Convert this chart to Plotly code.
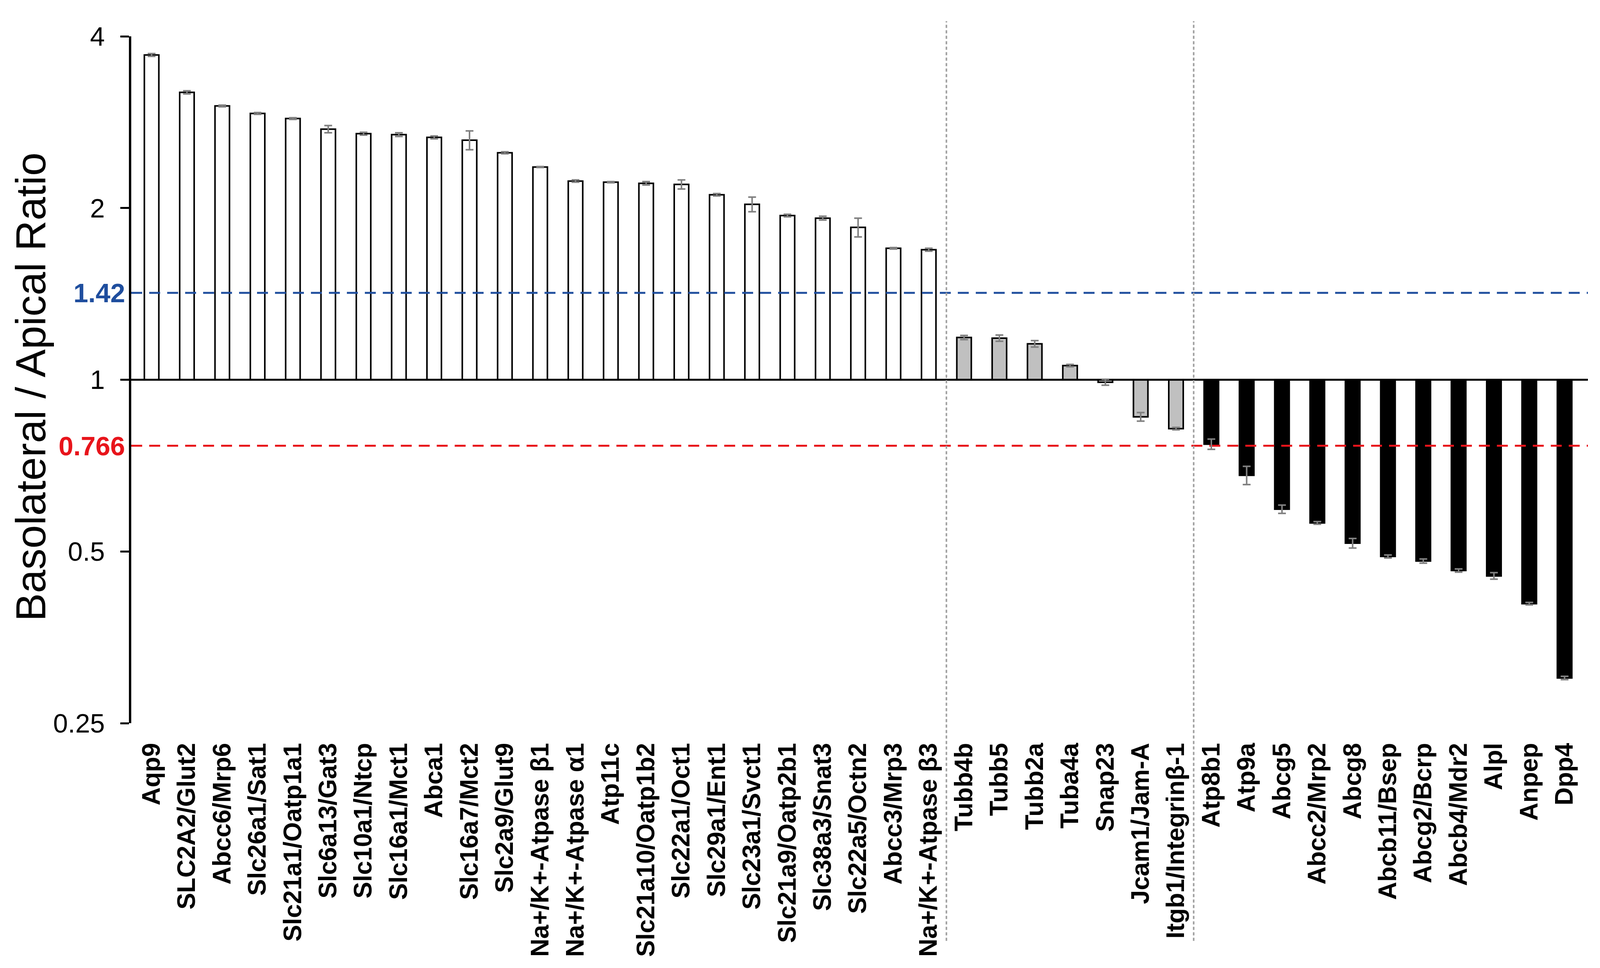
import math
import plotly.graph_objects as go

# ---- data ----
baso_genes = ["Aqp9", "SLC2A2/Glut2", "Abcc6/Mrp6", "Slc26a1/Sat1", "Slc21a1/Oatp1a1",
              "Slc6a13/Gat3", "Slc10a1/Ntcp", "Slc16a1/Mct1", "Abca1", "Slc16a7/Mct2",
              "Slc2a9/Glut9", "Na+/K+-Atpase β1", "Na+/K+-Atpase α1", "Atp11c",
              "Slc21a10/Oatp1b2", "Slc22a1/Oct1", "Slc29a1/Ent1", "Slc23a1/Svct1",
              "Slc21a9/Oatp2b1", "Slc38a3/Snat3", "Slc22a5/Octn2", "Abcc3/Mrp3",
              "Na+/K+-Atpase β3"]
baso_values = [3.71, 3.19, 3.02, 2.93, 2.87, 2.75, 2.70, 2.69, 2.66, 2.63, 2.50, 2.36,
               2.23, 2.22, 2.21, 2.20, 2.11, 2.03, 1.94, 1.92, 1.85, 1.70, 1.69]
baso_errors = [0.02, 0.02, 0.01, 0.01, 0.01, 0.04, 0.015, 0.02, 0.015, 0.10, 0.01, 0.005,
               0.01, 0.005, 0.015, 0.04, 0.01, 0.06, 0.01, 0.015, 0.07, 0.005, 0.01]

neutral_genes = ["Tubb4b", "Tubb5", "Tubb2a", "Tuba4a", "Snap23", "Jcam1/Jam-A",
                 "Itgb1/Integrinβ-1"]
neutral_values = [1.186, 1.183, 1.156, 1.059, 0.99, 0.861, 0.821]
neutral_errors = [0.01, 0.015, 0.015, 0.005, 0.012, 0.015, 0.004]

apical_genes = ["Atp8b1", "Atp9a", "Abcg5", "Abcc2/Mrp2", "Abcg8", "Abcb11/Bsep",
                "Abcg2/Bcrp", "Abcb4/Mdr2", "Alpl", "Anpep", "Dpp4"]
apical_values = [0.771, 0.680, 0.593, 0.561, 0.517, 0.490, 0.481, 0.463, 0.453, 0.405, 0.300]
apical_errors = [0.016, 0.025, 0.01, 0.003, 0.01, 0.003, 0.004, 0.003, 0.006, 0.002, 0.002]

basolateral_cutoff = 1.42
apical_cutoff = 0.766
baseline = 1

y_tickvals = [0.25, 0.5, 1, 2, 4]
y_ticktext = ["0.25", "0.5", "1", "2", "4"]

# ---- derived ----
genes = baso_genes + neutral_genes + apical_genes
values = baso_values + neutral_values + apical_values
errors = baso_errors + neutral_errors + apical_errors
n1, n2 = len(baso_genes), len(neutral_genes)
x_all = list(range(len(genes)))
x1, x2, x3 = x_all[:n1], x_all[n1:n1 + n2], x_all[n1 + n2:]
x_range = [-0.576, len(genes) - 1 + 0.66]

FONT = "Arial, Liberation Sans, sans-serif"
W, H = 4096, 2479          # browser viewport is 4096 px wide
sx = W / 4249              # horizontal scale vs. the reference canvas


def bars(xs, vals, fill, name):
    return go.Bar(
        x=xs, y=[v - baseline for v in vals], base=[baseline] * len(vals),
        width=0.41, name=name, showlegend=False,
        marker=dict(color=fill, line=dict(color="black", width=4)),
    )


def hline(level, color, dash):
    return go.Scatter(
        x=x_range, y=[level, level], mode="lines", showlegend=False,
        line=dict(color=color, width=5, dash=dash), hoverinfo="skip",
    )


fig = go.Figure()
fig.add_trace(bars(x1, baso_values, "white", "basolateral"))
fig.add_trace(bars(x2, neutral_values, "#c0c0c0", "non-polar"))
fig.add_trace(bars(x3, apical_values, "black", "apical"))
fig.add_trace(hline(baseline, "black", "solid"))
fig.add_trace(hline(basolateral_cutoff, "#1f4e9e", "28px,18px"))
fig.add_trace(hline(apical_cutoff, "#e8141b", "28px,18px"))
fig.add_trace(go.Scatter(
    x=x_all, y=values, mode="markers", showlegend=False,
    marker=dict(size=1, color="rgba(0,0,0,0)"),
    error_y=dict(type="data", array=errors, visible=True, color="#808080",
                 thickness=4, width=10),
))

# group separators
for sep in (n1 - 0.5, n1 + n2 - 0.5):
    fx = (sep - x_range[0]) / (x_range[1] - x_range[0])
    fig.add_shape(type="line", xref="x domain", x0=fx, x1=fx, yref="paper",
                  y0=-0.317, y1=1.022,
                  line=dict(color="#a0a0a0", width=4, dash="8px,6px"), layer="above")

# coloured cut-off labels
fig.add_annotation(xref="paper", x=0, xanchor="right", xshift=-14,
                   yref="y", y=math.log10(basolateral_cutoff), yanchor="middle",
                   text="1.42", showarrow=False,
                   font=dict(family=FONT, size=68, color="#1f4e9e", weight="bold"))
fig.add_annotation(xref="paper", x=0, xanchor="right", xshift=-14,
                   yref="y", y=math.log10(apical_cutoff), yanchor="middle",
                   text="0.766", showarrow=False,
                   font=dict(family=FONT, size=68, color="#e8141b", weight="bold"))
# y-axis title
fig.add_annotation(xref="paper", x=0, xanchor="center", xshift=round(-267 * sx),
                   yref="paper", y=0.4895, yanchor="middle", textangle=-90,
                   text="Basolateral / Apical Ratio", showarrow=False,
                   font=dict(family=FONT, size=108, color="black"))

fig.update_layout(
    width=W, height=H,
    margin=dict(l=round(349 * sx), r=round(32 * sx), t=93, b=627),
    paper_bgcolor="white", plot_bgcolor="white",
    font=dict(family=FONT, color="black"),
    xaxis=dict(
        range=x_range, tickmode="array", tickvals=x_all, ticktext=genes,
        tickangle=-90, tickfont=dict(family=FONT, size=64, color="black", weight="bold"),
        showline=False, showgrid=False, zeroline=False,
        ticks="outside", ticklen=24, tickcolor="rgba(0,0,0,0)",
    ),
    yaxis=dict(
        type="log", range=[math.log10(0.25), math.log10(4)],
        tickmode="array", tickvals=y_tickvals, ticktext=y_ticktext,
        tickfont=dict(family=FONT, size=68, color="black"),
        ticks="outside", ticklen=22, tickwidth=5, tickcolor="black",
        ticklabelstandoff=26,
        showline=True, linewidth=6, linecolor="black",
        showgrid=False, zeroline=False,
    ),
)

fig.write_html("out.html", post_script="document.body.style.margin='0';",
               config={"displayModeBar": False})
